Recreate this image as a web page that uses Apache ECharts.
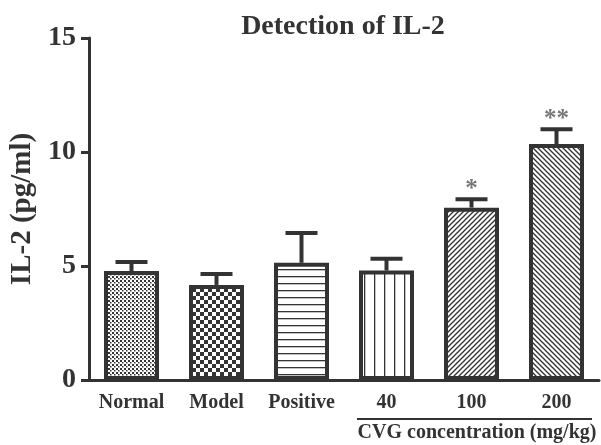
<!DOCTYPE html>
<html>
<head>
<meta charset="utf-8">
<script src="https://cdn.jsdelivr.net/npm/echarts@6/dist/echarts.min.js"></script>
<style>
html,body{margin:0;padding:0;background:#fff;}
#chart{width:601px;height:445px;}
</style>
</head>
<body>
<div id="chart"></div>
<script>
// ---- data ----
const categories = ['Normal', 'Model', 'Positive', '40', '100', '200'];
const means = [4.78, 4.17, 5.14, 4.80, 7.56, 10.35];
const errors = [0.40, 0.48, 1.31, 0.52, 0.37, 0.65];
const significance = ['', '', '', '', '*', '**'];
const yTicks = [0, 5, 10, 15];

const FONT = '"Liberation Serif", "Times New Roman", serif';
const INK = '#333333';

function tile(w, h, draw) {
  const c = document.createElement('canvas');
  c.width = w; c.height = h;
  const g = c.getContext('2d');
  g.fillStyle = '#ffffff';
  g.fillRect(0, 0, w, h);
  g.fillStyle = INK; g.strokeStyle = INK;
  draw(g, w, h);
  return c;
}
const patterns = [
  // fine dots
  tile(4, 4, (g) => { g.fillRect(0, 0, 2, 2); g.fillRect(2, 2, 1.5, 1.5); }),
  // checkerboard
  tile(8, 8, (g) => { g.fillRect(0, 0, 4, 4); g.fillRect(4, 4, 4, 4); }),
  // horizontal lines
  tile(8, 7, (g) => { g.fillRect(0, 3, 8, 1.3); }),
  // vertical lines
  tile(10, 8, (g) => { g.fillRect(4, 0, 1.3, 8); }),
  // diagonal /
  tile(5, 5, (g, p) => {
    g.lineWidth = 1.3;
    [0, p, 2 * p].forEach(c => { g.beginPath(); g.moveTo(c + 1, -1); g.lineTo(c - p - 1, p + 1); g.stroke(); });
  }),
  // diagonal \
  tile(5, 5, (g, p) => {
    g.lineWidth = 1.3;
    [-p, 0, p].forEach(c => { g.beginPath(); g.moveTo(c - 1, -1); g.lineTo(c + p + 1, p + 1); g.stroke(); });
  })
];

const chart = echarts.init(document.getElementById('chart'), null, { renderer: 'canvas' });

const option = {
  animation: false,
  backgroundColor: '#ffffff',
  grid: { left: 89, right: 2, top: 38, bottom: 65, containLabel: false },
  xAxis: {
    type: 'category',
    data: categories,
    axisLine: { lineStyle: { color: INK, width: 3 } },
    axisTick: { alignWithLabel: true, length: 8, lineStyle: { color: INK, width: 2.5 } },
    axisLabel: { color: INK, fontFamily: FONT, fontWeight: 'bold', fontSize: 20, margin: 13, interval: 0 }
  },
  yAxis: {
    type: 'value',
    min: yTicks[0], max: yTicks[yTicks.length - 1], interval: 5,
    name: 'IL-2 (pg/ml)',
    nameLocation: 'middle',
    nameRotate: 90,
    nameGap: 45,
    nameTextStyle: { color: INK, fontFamily: FONT, fontWeight: 'bold', fontSize: 29 },
    axisLine: { show: true, lineStyle: { color: INK, width: 3 } },
    axisTick: { show: true, length: 8, lineStyle: { color: INK, width: 3 } },
    splitLine: { show: false },
    axisLabel: { color: INK, fontFamily: FONT, fontWeight: 'bold', fontSize: 28, margin: 13 }
  },
  graphic: [
    { type: 'text', x: 343, y: 27,
      style: { text: 'Detection of IL-2', textAlign: 'center', textVerticalAlign: 'middle',
        font: 'bold 28px ' + FONT, fill: INK } },
    { type: 'line', shape: { x1: 357, y1: 419, x2: 592, y2: 419 }, style: { stroke: INK, lineWidth: 2 } },
    { type: 'text', x: 477, y: 433,
      style: { text: 'CVG concentration (mg/kg)', textAlign: 'center', textVerticalAlign: 'middle',
        font: 'bold 20px ' + FONT, fill: INK } }
  ],
  series: [
    {
      type: 'bar',
      barWidth: 55,
      data: means.map((v, i) => ({
        value: v,
        itemStyle: { color: { image: patterns[i], repeat: 'repeat' }, borderColor: INK, borderWidth: 4 }
      })),
      z: 2
    },
    {
      type: 'custom',
      z: 3,
      data: means.map((v, i) => [i, v, errors[i]]),
      renderItem: function (params, api) {
        const i = params.dataIndex;
        const x = api.value(0), v = api.value(1), e = api.value(2);
        const base = api.coord([x, v]);
        const top = api.coord([x, v + e]);
        const half = 16;
        const children = [
          { type: 'line', shape: { x1: base[0], y1: base[1], x2: top[0], y2: top[1] },
            style: { stroke: INK, lineWidth: 4 } },
          { type: 'line', shape: { x1: top[0] - half, y1: top[1], x2: top[0] + half, y2: top[1] },
            style: { stroke: INK, lineWidth: 4 } }
        ];
        if (significance[i]) {
          children.push({ type: 'text', x: top[0], y: top[1] + 3,
            style: { text: significance[i], textAlign: 'center', textVerticalAlign: 'bottom',
              font: 'bold 25px ' + FONT, fill: '#777777' } });
        }
        return { type: 'group', children: children };
      }
    }
  ]
};
chart.setOption(option);
</script>
</body>
</html>
